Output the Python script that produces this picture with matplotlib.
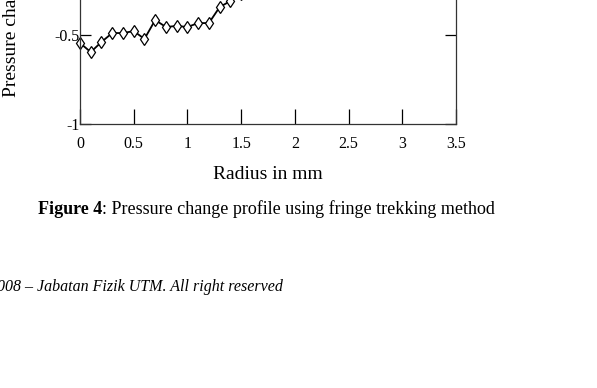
import matplotlib
matplotlib.use("Agg")
import matplotlib.pyplot as plt

plt.rcParams["font.family"] = ["Liberation Serif", "DejaVu Serif"]

# radius (mm) and pressure change (upper part is cropped)
radius = [0.0, 0.1, 0.2, 0.3, 0.4, 0.5, 0.6, 0.7, 0.8, 0.9, 1.0, 1.1, 1.2, 1.3, 1.4, 1.5, 1.6]
pressure = [-0.545, -0.596, -0.539, -0.489, -0.489, -0.478, -0.522, -0.416, -0.455,
            -0.449, -0.455, -0.433, -0.433, -0.343, -0.309, -0.27, -0.22]

xticks = [0, 0.5, 1, 1.5, 2, 2.5, 3, 3.5]
xticklabels = ["0", "0.5", "1", "1.5", "2", "2.5", "3", "3.5"]
yticks = [-1, -0.5]
yticklabels = ["-1", "-0.5"]

W, H = 597, 388
fig = plt.figure(figsize=(W / 100, H / 100), dpi=100)
fig.patch.set_facecolor("white")

# axes run past the top edge of the picture (the reference is cropped)
ax = fig.add_axes([80 / W, (H - 124) / H, 376 / W, 356 / H])
ax.plot(radius, pressure, "-", color="black", lw=1.3, marker="d", ms=6,
        mfc="white", mec="black", mew=0.9, clip_on=False)
ax.set_xlim(0, 3.5)
ax.set_ylim(-1, 1)
ax.set_xticks(xticks)
ax.set_xticklabels(xticklabels)
ax.set_yticks(yticks)
ax.set_yticklabels(yticklabels)
ax.tick_params(axis="x", direction="in", length=11, width=0.9, pad=9, labelsize=11.5)
ax.tick_params(axis="y", direction="in", length=8, width=0.9, pad=0.5, labelsize=11.5,
               right=True)
for s in ax.spines.values():
    s.set_linewidth(0.9)
    s.set_color("#333333")

ax.set_xlabel("Radius in mm", fontsize=14, labelpad=10)
fig.text(12 / W, (H - 97) / H, "Pressure change in Pa", rotation=90,
         ha="center", va="bottom", fontsize=14)

# caption: bold "Figure 4" followed by regular text
r = fig.canvas.get_renderer()
t1 = fig.text(38 / W, (H - 209) / H, "Figure 4", fontsize=13, fontweight="bold",
              ha="left", va="center")
bb = t1.get_window_extent(renderer=r)
fig.text(bb.x1 / W, (H - 209) / H,
         ": Pressure change profile using fringe trekking method",
         fontsize=13, ha="left", va="center")

fig.text(283 / W, (H - 287) / H, "2008 \u2013 Jabatan Fizik UTM. All right reserved",
         fontsize=11.5, style="italic", ha="right", va="center")

fig.savefig("out.png", dpi=100, facecolor="white")
